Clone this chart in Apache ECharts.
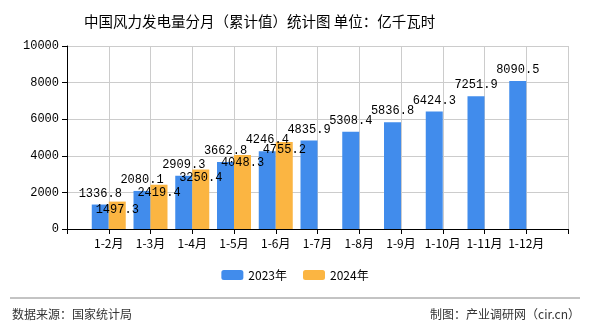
<!DOCTYPE html>
<html><head><meta charset="utf-8">
<script src="https://cdn.jsdelivr.net/npm/echarts@6/dist/echarts.min.js"></script>
<style>html,body{margin:0;padding:0;background:#fff}#c{width:590px;height:330px}</style>
</head><body><div id="c"></div>
<script>
var categories = ['1-2月','1-3月','1-4月','1-5月','1-6月','1-7月','1-8月','1-9月','1-10月','1-11月','1-12月'];
var values2023 = [1336.8,2080.1,2909.3,3662.8,4246.4,4835.9,5308.4,5836.8,6424.3,7251.9,8090.5];
var values2024 = [1497.3,2419.4,3250.4,4048.3,4755.2,null,null,null,null,null,null];
var yTicks = [0,2000,4000,6000,8000,10000];

var axisCats = [''].concat(categories).concat(['']);
function pad(a){ return [null].concat(a).concat([null]); }
var lblFont = 'Liberation Mono, DejaVu Sans Mono, monospace';
var chart = echarts.init(document.getElementById('c'));
chart.setOption({
  animation:false,
  title:{text:'中国风力发电量分月（累计值）统计图 单位：亿千瓦时', left:79, top:9,
    textStyle:{fontSize:14.5, fontWeight:'normal', color:'#000', fontFamily:'Noto Sans CJK SC'}},
  legend:{bottom:44, left:'center', itemWidth:22, itemHeight:10, itemGap:16,
    textStyle:{fontSize:12, color:'#000', fontFamily:'Noto Sans CJK SC'},
    data:['2023年','2024年']},
  grid:{left:67, right:22, top:46, bottom:101, containLabel:false},
  xAxis:{type:'category', data:axisCats, boundaryGap:false,
    axisLine:{lineStyle:{color:'#000'}}, axisTick:{show:true, length:5, lineStyle:{color:'#000'}},
    axisLabel:{color:'#000', fontSize:12, margin:8, interval:0, fontFamily:'Noto Sans CJK SC'},
    splitLine:{show:true, lineStyle:{color:'#ccc'}}},
  yAxis:{type:'value', min:yTicks[0], max:yTicks[yTicks.length-1], interval:2000,
    axisLine:{show:true, lineStyle:{color:'#000'}}, axisTick:{show:true, length:5, lineStyle:{color:'#000'}},
    axisLabel:{color:'#000', fontSize:12, margin:8, fontFamily:lblFont, formatter:function(v){return String(v);}},
    splitLine:{show:true, lineStyle:{color:'#ccc'}}},
  series:[
    {name:'2023年', type:'bar', data:pad(values2023), barWidth:17, barGap:'0%',
      itemStyle:{color:'#418cec'},
      label:{show:true, position:'top', distance:5, color:'#000', fontSize:12, fontFamily:lblFont}},
    {name:'2024年', type:'bar', data:pad(values2024), barWidth:17, barGap:'0%',
      itemStyle:{color:'#fbb542'},
      label:{show:true, position:'insideTop', distance:2, color:'#000', fontSize:12, fontFamily:lblFont}}
  ],
  graphic:[
    {type:'line', shape:{x1:10, y1:298, x2:580, y2:298}, style:{stroke:'#888', lineWidth:1}},
    {type:'text', left:12, top:308, style:{text:'数据来源：国家统计局', fontSize:12, fill:'#333', fontFamily:'Noto Sans CJK SC'}},
    {type:'text', right:10, top:308, style:{text:'制图：产业调研网（cir.cn）', fontSize:12, fill:'#333', fontFamily:'Noto Sans CJK SC'}}
  ]
});
</script></body></html>
